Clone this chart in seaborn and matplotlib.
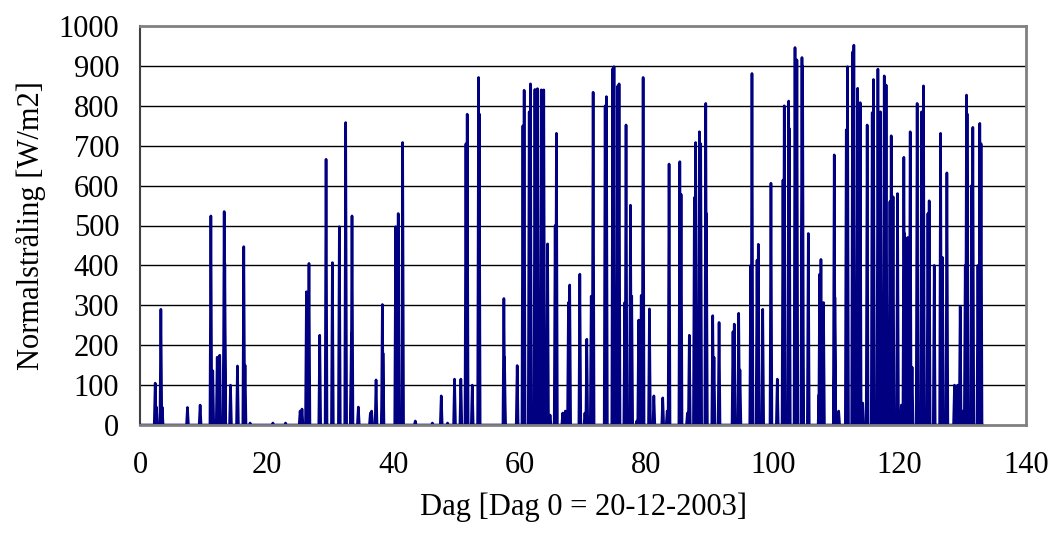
import numpy as np
import pandas as pd
import seaborn as sns
import matplotlib
matplotlib.use("Agg")
import matplotlib.pyplot as plt

# daily peaks of normal irradiance (day, W/m2)
dag = [
    2.4, 2.6, 3.3, 3.5, 7.5, 9.5, 11.2, 11.5, 12.2, 12.6, 13.3, 13.4, 14.3, 15.4,
    16.4, 16.6, 17.4, 21.0, 23.0, 25.3, 25.6, 26.3, 26.7, 28.4, 29.4, 30.4, 31.5,
    32.5, 33.4, 33.5, 34.5, 36.4, 36.6, 37.3, 38.3, 38.4, 40.4, 40.8, 41.5, 43.5,
    46.2, 47.6, 48.6, 49.7, 50.7, 51.5, 51.7, 52.5, 53.5, 53.6, 57.5, 57.6, 59.6,
    60.5, 60.7, 61.5, 61.7, 62.4, 62.8, 63.4, 63.8, 64.4, 64.8, 65.6, 65.8, 66.8,
    67.2, 67.7, 67.9, 69.5, 70.3, 70.6, 71.3, 71.6, 73.5, 73.7, 74.7, 74.9, 75.5,
    75.7, 76.6, 76.8, 77.5, 77.7, 78.5, 78.8, 79.2, 79.5, 80.5, 81.2, 82.6, 83.3,
    83.6, 85.3, 85.5, 86.5, 86.8, 87.6, 87.8, 88.4, 88.6, 89.4, 89.5, 90.5, 90.7,
    91.5, 93.7, 93.9, 94.6, 94.8, 96.5, 96.7, 97.5, 97.7, 98.4, 99.7, 100.7,
    101.6, 101.8, 102.5, 102.6, 103.5, 103.8, 104.6, 104.7, 105.6, 107.3, 107.4,
    107.6, 108.0, 109.7, 109.8, 110.4, 111.6, 111.8, 112.6, 112.8, 113.4, 113.8,
    114.2, 114.9, 115.7, 115.9, 116.6, 117.0, 117.6, 117.9, 118.5, 118.7, 119.0,
    119.7, 120.3, 120.7, 120.8, 121.3, 121.7, 122.0, 122.8, 123.5, 123.8, 124.5,
    124.7, 125.5, 126.5, 126.8, 127.5, 128.7, 129.0, 129.2, 129.6, 130.0, 130.4,
    130.6, 130.7, 131.4, 131.6, 132.4, 132.7, 132.9,
]
topp = [
    105, 45, 290, 45, 44, 50, 524, 136, 170, 175, 535, 405, 100, 148,
    447, 150, 5, 5, 5, 35, 40, 334, 405, 225, 666, 407, 497,
    758, 230, 524, 45, 30, 35, 113, 302, 180, 497, 530, 708, 10,
    5, 73, 5, 115, 115, 705, 779, 100, 871, 780, 317, 170, 149,
    750, 839, 785, 855, 841, 843, 840, 840, 454, 25, 500, 731, 30,
    35, 307, 351, 378, 30, 215, 323, 834, 800, 823, 893, 898, 850,
    855, 307, 752, 551, 323, 10, 263, 325, 871, 291, 73, 68, 35,
    654, 660, 578, 30, 225, 570, 708, 735, 705, 806, 530, 274, 170,
    257, 234, 253, 280, 138, 400, 881, 413, 453, 290, 606, 115,
    614, 800, 812, 743, 946, 915, 921, 900, 480, 76, 378,
    415, 307, 677, 320, 35, 740, 898, 935, 952, 844, 808,
    55, 752, 783, 866, 892, 785, 875, 852, 560, 725, 572,
    580, 50, 671, 480, 470, 735, 145, 806, 785, 850, 530,
    562, 400, 731, 420, 632, 100, 73, 100, 297, 35, 400,
    827, 780, 600, 746, 400, 756, 705,
]
start_dag = 0.0
slut_dag = 133.2

# build the time series: zero at night, one spike per peak
halv = 0.15
t = [start_dag]
w = [0.0]
for d, p in zip(dag, topp):
    t += [d - halv, d, d + halv]
    w += [0.0, p, 0.0]
t.append(slut_dag)
w.append(0.0)
df = pd.DataFrame({"Dag": t, "Normalstråling": w})

sns.set_theme(style="white")
plt.rcParams["font.family"] = ["Liberation Serif", "DejaVu Serif"]
plt.rcParams["text.color"] = "black"
plt.rcParams["axes.labelcolor"] = "black"

fig = plt.figure(figsize=(10.55, 5.39), dpi=100)
ax = fig.add_axes([140 / 1055, 1 - 425 / 539, 886 / 1055, 399 / 539])

sns.lineplot(data=df, x="Dag", y="Normalstråling", sort=False, estimator=None,
             color="#000080", linewidth=1.9, ax=ax)

ax.set_xlim(0, 140)
ax.set_ylim(0, 1000)
ax.set_xticks(range(0, 141, 20))
ax.set_yticks(range(0, 1001, 100))
for yv in range(100, 1000, 100):
    ax.axhline(yv, color="black", lw=1.0, zorder=0)

for side in ["top", "right", "bottom"]:
    ax.spines[side].set_color("#808080")
    ax.spines[side].set_linewidth(2)
ax.spines["left"].set_color("#404040")
ax.spines["left"].set_linewidth(1.5)

ax.tick_params(axis="both", which="major", direction="out", length=6,
               width=1.2, color="#303030", labelsize=22, labelcolor="black")
ax.tick_params(axis="y", pad=9)
ax.tick_params(axis="x", pad=13)

ax.set_xlabel("Dag [Dag 0 = 20-12-2003]", fontsize=22, labelpad=9)
ax.set_ylabel("Normalstråling [W/m2]", fontsize=22, labelpad=9)

fig.savefig("out.png", dpi=100)
